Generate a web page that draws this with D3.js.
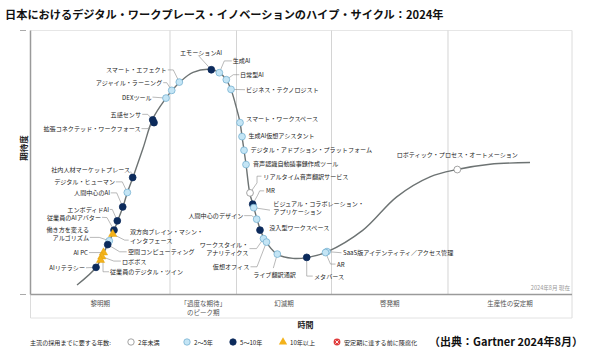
<!DOCTYPE html>
<html><head><meta charset="utf-8">
<script src="https://cdn.jsdelivr.net/npm/d3@7"></script>
<style>
body{margin:0;background:#fff}
svg{display:block}
text{font-family:"Noto Sans CJK JP","Noto Sans",sans-serif}
</style>
</head><body><svg id="c" width="600" height="354"></svg>
<script>
// ---------- DATA ----------
const title = "日本におけるデジタル・ワークプレース・イノベーションのハイプ・サイクル：2024年";
const source = "（出典：Gartner 2024年8月）";
const asOf = "2024年8月 現在";
const xTitle = "時間";
const yTitle = "期待度";

const names = [
  "エモーションAI","スマート・エフェクト","アジャイル・ラーニング","DEXツール","五感センサ",
  "拡張コネクテッド・ワークフォース","社内人材マーケットプレース","デジタル・ヒューマン","人間中心のAI","エンボディドAI",
  "従業員のAIアバター","双方向ブレイン・マシン・|インタフェース","働き方を変える|アルゴリズム","空間コンピューティング","AI PC",
  "ロボボス","従業員のデジタル・ツイン","AIリテラシー","生成AI","日常型AI",
  "ビジネス・テクノロジスト","スマート・ワークスペース","生成AI仮想アシスタント","デジタル・アドプション・プラットフォーム","音声認識自動議事録作成ツール",
  "リアルタイム音声翻訳サービス","MR","ビジュアル・コラボレーション・|アプリケーション","人間中心のデザイン","没入型ワークスペース",
  "ワークスタイル・|アナリティクス","仮想オフィス","ライブ翻訳通訳","メタバース","SaaS版アイデンティティ／アクセス管理",
  "AR","ロボティック・プロセス・オートメーション"
];
// position along time axis (0-100) and expectations (0-100)
const posX = [33.39,27.48,26.08,25.02,22.57, 22.81,18.87,17.88,17.03,16.03, 15.42,15.18,14.55,14.26,13.48,
  13.17,12.93,12.10,34.87,36.16, 37.03,38.69,39.06,39.43,39.80, 40.54,41.03,41.22,41.77,42.38, 43.03,43.58,45.58,51.01,54.76, 54.48,78.82];
const posY = [85.14,80.45,77.32,74.40,66.16, 65.10,44.31,38.64,33.19,27.90, 24.39,22.87,20.34,18.90,15.88,
  14.37,13.04,10.28,84.01,81.36, 77.69,65.10,59.81,54.63,49.22, 38.49,34.22,32.89,28.54,24.39, 21.17,19.85,15.31,14.06,16.26, 15.88,47.33];
// years to mainstream adoption: 0 = <2, 1 = 2-5, 2 = 5-10, 3 = >10
const years = [2,1,1,1,2, 2,2,1,2,2, 2,3,1,2,3, 3,3,2,1,1, 1,1,1,1,1, 0,2,1,1,2, 1,1,1,2,1, 1,0];

// hype curve anchor values
const curveX = [8.59,12.10,13.39,14.31,15.24,16.07,17.08,17.91,18.93,20.78,22.62,25.02,26.13,27.52,30.01,33.33,34.81,36.10,37.03,37.86,38.69,39.06,39.43,39.80,40.49,41.09,41.83,42.47,43.30,45.52,48.48,51.06,54.67,61.40,67.63,73.78,78.76,84.86,92.24];
const curveY = [3.59,10.21,15.31,19.09,23.25,27.79,33.27,38.75,44.42,55.39,66.73,74.40,77.32,80.34,84.12,85.26,84.12,81.47,77.69,71.98,65.22,59.92,54.63,49.34,38.37,34.03,28.54,24.39,20.60,15.31,13.69,13.99,16.07,24.39,36.98,44.54,47.33,49.34,49.98];

const phaseNames = ["黎明期","「過度な期待」|のピーク期","幻滅期","啓発期","生産性の安定期"];
const phaseBounds = [0,25.76,38.04,55.59,77.10,100];

const legendTitle = "主流の採用までに要する年数:";
const legendLabels = ["2年未満","2〜5年","5〜10年","10年以上","安定期に達する前に陳腐化"];

// ---------- LAYOUT (label offsets in px relative to marker) ----------
const labelLayout = [
  {dx:-10.3,dy:-17.6,a:"middle",l:[[0,0],[-13,-14.3]]},
  {dx:-12.6,dy:-12.4,a:"end",l:[[0,0],[-6,-12.2],[-11.5,-12.2]]},
  {dx:-9.4,dy:-7.7,a:"end",l:[[0,0],[-5,-7.7],[-8.5,-7.7]]},
  {dx:-14.3,dy:-1,a:"end",l:[[0,0],[-13.5,-1]]},
  {dx:-11.7,dy:-5.5,a:"end",l:[[0,0],[-5,-5.5],[-10.5,-5.5]]},
  {dx:-13.3,dy:6,a:"end",l:[[0,0],[-6,6],[-12.5,6]]},
  {dx:-2.5,dy:-8.5,a:"end",l:[[0,0],[-2,-6]]},
  {dx:-12.3,dy:-10.6,a:"end",l:[[0,0],[-5,-10.6],[-11.5,-10.6]]},
  {dx:-12.7,dy:-14,a:"end",l:[[0,0],[-6,-14],[-12,-14]]},
  {dx:-8.3,dy:-11.4,a:"end",l:[[0,0],[-5,-11.4],[-7.5,-11.4]]},
  {dx:-13,dy:-12.8,a:"end",l:[[0,0],[-7,-12.5],[-12,-12.8]]},
  {dx:17.3,dy:-2.3,a:"start",l:[[0,0],[12,6],[16,6]]},
  {dx:-20.3,dy:-11.7,a:"end",l:[[0,0],[-10,-3.4],[-19.5,-3.4]]},
  {dx:20.3,dy:7.2,a:"start",l:[[0,0],[12,7.2],[19,7.2]]},
  {dx:-15.5,dy:0,a:"end",l:[[0,0],[-14.5,0]]},
  {dx:20.2,dy:4.5,a:"start",l:[[0,0],[12,4.5],[19,4.5]]},
  {dx:9.5,dy:11.7,a:"start",l:[[2.5,0],[2.5,11.7],[8.5,11.7]]},
  {dx:-11,dy:0.4,a:"end",l:[[0,0],[-10,0.4]]},
  {dx:13.4,dy:-12.3,a:"start",l:[[0,0],[5,-11.8],[12.5,-11.8]]},
  {dx:13.7,dy:-5,a:"start",l:[[0,0],[7,-5],[13,-5]]},
  {dx:15,dy:0.3,a:"start",l:[[0,0],[14,0.3]]},
  {dx:6,dy:-4.6,a:"start",l:null},
  {dx:6.5,dy:-1.3,a:"start",l:null},
  {dx:6.5,dy:-0.7,a:"start",l:null},
  {dx:7,dy:-1,a:"start",l:null},
  {dx:13.3,dy:-16.7,a:"start",l:[[0,0],[7,-10],[7,-16.7],[11.5,-16.7]]},
  {dx:13.3,dy:-13.3,a:"start",l:[[0,0],[5,-9],[7,-13.3],[11.5,-13.3]]},
  {dx:19.6,dy:-4.2,a:"start",l:[[0,0],[16.3,2.5]]},
  {dx:-13.4,dy:-4,a:"end",l:[[0,0],[-5,-3.5],[-12.5,-3.5]]},
  {dx:9.3,dy:-2.3,a:"start",l:null},
  {dx:-15.2,dy:5.8,a:"end",l:[[0,0],[-7,10],[-14,10]]},
  {dx:-17.2,dy:24.7,a:"end",l:[[0,0],[-9.5,24.7],[-16,24.7]]},
  {dx:-2.8,dy:20.3,a:"middle",l:[[0,0],[-4,14]]},
  {dx:7.3,dy:18.7,a:"start",l:[[0,0],[0,18.7],[6,18.7]]},
  {dx:16,dy:1.2,a:"start",l:[[0,0],[14.5,1.2]]},
  {dx:11.5,dy:11.5,a:"start",l:[[0,0],[5,11.5],[10,11.5]]},
  {dx:0,dy:-15,a:"middle",l:null}
];

// ---------- DRAW ----------
const svg = d3.select("#c");
const L = 30.5, R = 572, T = 30.5, B = 294.5, ROWB = 318;
const x = d3.scaleLinear().domain([0,100]).range([L,R]);
const y = d3.scaleLinear().domain([0,100]).range([B,T]);

const FS = 6.1;
const fill = ["#ffffff","#c4e5f5","#0c2b5c","#f3b21b"];
const stroke = ["#8c8c8c","#79b2d2","#0c2b5c","#f3b21b"];

svg.append("text").attr("x",5).attr("y",14).attr("dominant-baseline","central")
  .attr("font-size",11.2).attr("font-weight","bold").attr("fill","#111").text(title);

// frame
svg.append("line").attr("x1",L).attr("x2",R).attr("y1",T).attr("y2",T).attr("stroke","#e6e6e6").attr("stroke-width",1);
svg.append("line").attr("x1",L).attr("x2",R).attr("y1",ROWB).attr("y2",ROWB).attr("stroke","#e2e2e2").attr("stroke-width",1);
svg.append("line").attr("x1",R).attr("x2",R).attr("y1",T).attr("y2",ROWB).attr("stroke","#dcdcdc").attr("stroke-width",1);
svg.append("line").attr("x1",L).attr("x2",L).attr("y1",B).attr("y2",ROWB).attr("stroke","#dcdcdc").attr("stroke-width",1);
phaseBounds.slice(1,-1).forEach(b=>{
  svg.append("line").attr("x1",x(b)).attr("x2",x(b)).attr("y1",T).attr("y2",B).attr("stroke","#d4d4d4").attr("stroke-width",1);
});
svg.append("line").attr("x1",L).attr("x2",L).attr("y1",T).attr("y2",B).attr("stroke","#9a9a9a").attr("stroke-width",1.5);
svg.append("line").attr("x1",L).attr("x2",R).attr("y1",B).attr("y2",B).attr("stroke","#9a9a9a").attr("stroke-width",1.5);
[T,B].forEach(v=>svg.append("line").attr("x1",20).attr("x2",26).attr("y1",v).attr("y2",v).attr("stroke","#aaa").attr("stroke-width",1));

// phase labels
phaseNames.forEach((p,i)=>{
  const cx = x((phaseBounds[i]+phaseBounds[i+1])/2);
  p.split("|").forEach((ln,j)=>{
    svg.append("text").attr("x",cx).attr("y",302.5+j*9).attr("dominant-baseline","central")
      .attr("text-anchor","middle").attr("font-size",6.5).attr("fill","#555").text(ln);
  });
});
svg.append("text").attr("x",R-2).attr("y",288).attr("dominant-baseline","central").attr("text-anchor","end")
  .attr("font-size",5.6).attr("fill","#999").text(asOf);

// axis titles
svg.append("text").attr("x",305.5).attr("y",324.5).attr("dominant-baseline","central").attr("text-anchor","middle")
  .attr("font-size",8).attr("font-weight","bold").attr("fill","#222").text(xTitle);
svg.append("text").attr("transform","translate(23,148) rotate(-90)").attr("dominant-baseline","central").attr("text-anchor","middle")
  .attr("font-size",8.5).attr("font-weight","bold").attr("fill","#222").text(yTitle);

// curve
const curvePts = curveX.map((v,i)=>[x(v),y(curveY[i])]);
svg.append("path").attr("d",d3.line().curve(d3.curveCatmullRom.alpha(0.5))(curvePts))
  .attr("fill","none").attr("stroke","#6d7373").attr("stroke-width",1.4);

// leaders
const items = names.map((n,i)=>({name:n,px:x(posX[i]),py:y(posY[i]),cat:years[i],lay:labelLayout[i]}));
items.forEach(d=>{
  if(d.lay.l){
    svg.append("path").attr("d",d3.line()(d.lay.l.map(p=>[d.px+p[0],d.py+p[1]])))
      .attr("fill","none").attr("stroke","#8a8a8a").attr("stroke-width",0.6);
  }
});
// markers
const tri = d3.symbol().type(d3.symbolTriangle).size(30);
items.forEach(d=>{
  if(d.cat===3){
    svg.append("path").attr("d",tri()).attr("transform",`translate(${d.px},${d.py})`)
      .attr("fill",fill[3]).attr("stroke","#e0a000").attr("stroke-width",0.4);
  } else {
    svg.append("circle").attr("cx",d.px).attr("cy",d.py).attr("r",3.4)
      .attr("fill",fill[d.cat]).attr("stroke",stroke[d.cat]).attr("stroke-width",0.8);
  }
});
// labels
items.forEach(d=>{
  d.name.split("|").forEach((ln,j)=>{
    svg.append("text").attr("x",d.px+d.lay.dx).attr("y",d.py+d.lay.dy+j*8.4)
      .attr("dominant-baseline","central").attr("text-anchor",d.lay.a)
      .attr("font-size",FS).attr("fill","#222").text(ln);
  });
});

// legend
const LY = 342;
svg.append("text").attr("x",30).attr("y",LY).attr("dominant-baseline","central").attr("font-size",FS).attr("fill","#222").text(legendTitle);
const legX = [131,187,233,283,337];
legendLabels.forEach((t,i)=>{
  const cx = legX[i];
  if(i<3){
    svg.append("circle").attr("cx",cx).attr("cy",LY).attr("r",3.2).attr("fill",fill[i]).attr("stroke",stroke[i]).attr("stroke-width",0.8);
  } else if(i===3){
    svg.append("path").attr("d",tri()).attr("transform",`translate(${cx},${LY})`).attr("fill",fill[3]);
  } else {
    svg.append("circle").attr("cx",cx).attr("cy",LY).attr("r",3.4).attr("fill","#e03c3c");
    svg.append("path").attr("d",`M${cx-1.6},${LY-1.6}L${cx+1.6},${LY+1.6}M${cx+1.6},${LY-1.6}L${cx-1.6},${LY+1.6}`)
      .attr("stroke","#fff").attr("stroke-width",0.9);
  }
  svg.append("text").attr("x",cx+7).attr("y",LY).attr("dominant-baseline","central").attr("font-size",FS).attr("fill","#222").text(t);
});
svg.append("text").attr("x",429).attr("y",LY-1).attr("dominant-baseline","central")
  .attr("font-size",11).attr("font-weight","bold").attr("fill","#111").text(source);
</script>
</body></html>
